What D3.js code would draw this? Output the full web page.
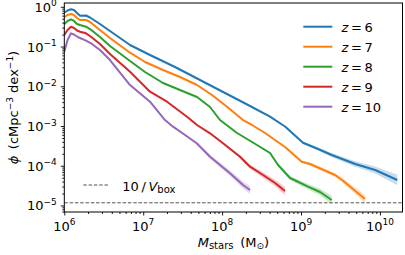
<!DOCTYPE html>
<html>
<head>
<meta charset="utf-8">
<script src="https://cdn.jsdelivr.net/npm/d3@7"></script>
<style>
  body{margin:0;background:#fff;}
  text{font-family:"DejaVu Sans",sans-serif;fill:#000;}
</style>
</head>
<body>
<div class="chart"></div>
<script>
/* values: log10 M_stars, log10 phi, band half-width (dex) */
var logM6=[6.00,6.041,6.085,6.123,6.161,6.199,6.275,6.326,6.452,6.579,6.833,7.086,7.403,7.720,8.037,8.354,8.607,8.797,9.025,9.216,9.389,9.687,9.940,10.220];
var logPhi6=[-0.148,-0.093,-0.063,-0.081,-0.156,-0.224,-0.219,-0.269,-0.433,-0.609,-0.961,-1.213,-1.515,-1.842,-2.169,-2.496,-2.765,-3.012,-3.420,-3.578,-3.729,-3.956,-4.107,-4.358];
var err6=[0.01,0.01,0.01,0.01,0.01,0.01,0.01,0.01,0.01,0.01,0.01,0.01,0.01,0.01,0.01,0.01,0.015,0.02,0.03,0.04,0.05,0.07,0.09,0.13];

var logM7=[6.00,6.041,6.085,6.123,6.161,6.199,6.275,6.326,6.452,6.579,6.833,7.023,7.251,7.466,7.682,7.872,8.062,8.265,8.379,8.544,8.797,9.009,9.114,9.431,9.520,9.811];
var logPhi7=[-0.264,-0.206,-0.181,-0.206,-0.282,-0.332,-0.332,-0.382,-0.584,-0.785,-1.155,-1.389,-1.590,-1.767,-1.968,-2.219,-2.514,-2.849,-2.974,-3.176,-3.528,-3.898,-3.956,-4.232,-4.358,-4.836];
var err7=[0.01,0.01,0.01,0.01,0.01,0.01,0.01,0.01,0.01,0.01,0.01,0.01,0.01,0.01,0.01,0.01,0.01,0.01,0.015,0.02,0.025,0.03,0.04,0.05,0.06,0.10];

var logM8=[6.00,6.041,6.085,6.123,6.161,6.199,6.275,6.326,6.452,6.579,6.833,7.023,7.251,7.466,7.682,7.847,7.973,8.189,8.442,8.607,8.709,8.861,9.089,9.241,9.389];
var logPhi8=[-0.433,-0.357,-0.315,-0.357,-0.433,-0.458,-0.501,-0.559,-0.760,-0.986,-1.364,-1.641,-1.917,-2.094,-2.270,-2.521,-2.849,-3.176,-3.478,-3.679,-3.981,-4.308,-4.527,-4.660,-4.862];
var err8=[0.01,0.01,0.01,0.01,0.01,0.01,0.01,0.01,0.01,0.01,0.01,0.01,0.01,0.01,0.01,0.01,0.015,0.015,0.02,0.03,0.04,0.05,0.07,0.08,0.11];

var logM9=[6.00,6.041,6.085,6.123,6.161,6.199,6.275,6.326,6.452,6.579,6.833,7.086,7.302,7.555,7.682,7.847,8.011,8.227,8.354,8.519,8.671,8.797];
var logPhi9=[-0.710,-0.584,-0.501,-0.533,-0.596,-0.627,-0.667,-0.735,-0.936,-1.188,-1.633,-2.136,-2.388,-2.765,-2.974,-3.183,-3.435,-3.772,-4.024,-4.232,-4.434,-4.635];
var err9=[0.01,0.01,0.01,0.01,0.01,0.01,0.01,0.01,0.01,0.01,0.01,0.01,0.01,0.01,0.015,0.015,0.02,0.04,0.05,0.07,0.08,0.10];

var logM10=[6.00,6.041,6.085,6.123,6.177,6.275,6.351,6.452,6.579,6.833,7.086,7.276,7.378,7.530,7.678,7.847,8.100,8.265,8.354];
var logPhi10=[-1.130,-0.835,-0.667,-0.697,-0.767,-0.853,-0.936,-1.087,-1.339,-1.968,-2.388,-2.849,-3.017,-3.226,-3.435,-3.772,-4.190,-4.484,-4.610];
var err10=[0.01,0.01,0.01,0.01,0.01,0.01,0.01,0.01,0.01,0.01,0.01,0.015,0.015,0.02,0.03,0.05,0.07,0.09,0.10];

var redshifts=["6","7","8","9","10"];
var colours=["#1f77b4","#ff7f0e","#2ca02c","#d62728","#9467bd"];
var xTickExp=[6,7,8,9,10];
var yTickExp=[0,-1,-2,-3,-4,-5];
var boxLimit=1.17e-5;   // 10/V_box

/*dimensions*/
var W=405, H=255;
var margin={top:3, right:2.5, bottom:43, left:64.3};
var width=W-margin.left-margin.right;
var height=H-margin.top-margin.bottom;

var xScale=d3.scaleLog().domain([1e6, Math.pow(10,10.286)]).range([0,width]);
var yScale=d3.scaleLog().domain([Math.pow(10,-5.1636), Math.pow(10,0.0956)]).range([height,0]);

var series=[
  {z:redshifts[0], m:logM6,  p:logPhi6,  e:err6,  c:colours[0]},
  {z:redshifts[1], m:logM7,  p:logPhi7,  e:err7,  c:colours[1]},
  {z:redshifts[2], m:logM8,  p:logPhi8,  e:err8,  c:colours[2]},
  {z:redshifts[3], m:logM9,  p:logPhi9,  e:err9,  c:colours[3]},
  {z:redshifts[4], m:logM10, p:logPhi10, e:err10, c:colours[4]}
];
series.forEach(function(s){
  s.pts=s.m.map(function(m,i){return {m:Math.pow(10,m), p:Math.pow(10,s.p[i]), lo:Math.pow(10,s.p[i]-s.e[i]), hi:Math.pow(10,s.p[i]+s.e[i])};});
});

var svg=d3.select(".chart").append("svg")
  .attr("width",W).attr("height",H);

svg.append("defs").append("clipPath").attr("id","plotClip")
  .append("rect").attr("width",width).attr("height",height);

var g=svg.append("g").attr("transform","translate("+margin.left+","+margin.top+")");
var plot=g.append("g").attr("clip-path","url(#plotClip)");

var area=d3.area()
  .x(function(d){return xScale(d.m)})
  .y0(function(d){return yScale(d.lo)})
  .y1(function(d){return yScale(d.hi)});
var line=d3.line()
  .x(function(d){return xScale(d.m)})
  .y(function(d){return yScale(d.p)});

// reference line
plot.append("line")
  .attr("x1",0).attr("x2",width)
  .attr("y1",yScale(boxLimit)).attr("y2",yScale(boxLimit))
  .style("stroke","#555").style("stroke-width",1).style("stroke-dasharray","3.5,1.8");

series.forEach(function(s){
  plot.append("path").datum(s.pts).attr("d",area)
    .style("fill",s.c).style("fill-opacity",0.25).style("stroke","none");
});
series.forEach(function(s){
  plot.append("path").datum(s.pts).attr("d",line)
    .style("fill","none").style("stroke",s.c).style("stroke-width",2)
    .style("stroke-linejoin","round");
});

// axes
function minorVals(lo,hi){
  var v=[];
  for(var e=lo;e<=hi;e++){for(var k=2;k<10;k++){v.push(k*Math.pow(10,e));}}
  return v;
}
var xMajors=xTickExp.map(function(e){return Math.pow(10,e)});
var yMajors=yTickExp.map(function(e){return Math.pow(10,e)});

g.append("g").attr("class","x-minor").attr("transform","translate(0,"+height+")")
  .call(d3.axisBottom(xScale).tickValues(minorVals(6,10).filter(function(v){return v<=xScale.domain()[1]})).tickSize(2).tickFormat(""));
g.append("g").attr("class","x-axis").attr("transform","translate(0,"+height+")")
  .call(d3.axisBottom(xScale).tickValues(xMajors).tickSize(3.5).tickFormat(""));
g.append("g").attr("class","y-minor")
  .call(d3.axisLeft(yScale).tickValues(minorVals(-6,-1).filter(function(v){return v>=yScale.domain()[0]})).tickSize(2).tickFormat(""));
g.append("g").attr("class","y-axis")
  .call(d3.axisLeft(yScale).tickValues(yMajors).tickSize(3.5).tickFormat(""));
g.selectAll(".domain").remove();
g.selectAll(".tick line").style("stroke","#000").style("stroke-width",0.9);

// frame
g.append("rect").attr("width",width).attr("height",height)
  .style("fill","none").style("stroke","#000").style("stroke-width",1);

function powerText(t,e){
  t.append("tspan").text("10");
  t.append("tspan").attr("dy",-5.5).style("font-size","9px").text(e<0?"\u2212"+(-e):e);
}
xTickExp.forEach(function(e){
  var t=g.append("text").attr("x",xScale(Math.pow(10,e))).attr("y",height+18.5)
    .attr("text-anchor","middle").style("font-size","13px");
  powerText(t,e);
});
yTickExp.forEach(function(e){
  var t=g.append("text").attr("x",-7.5).attr("y",yScale(Math.pow(10,e))+5)
    .attr("text-anchor","end").style("font-size","13px");
  powerText(t,e);
});

// axis labels
var xl=g.append("text").attr("x",width/2).attr("y",height+34.5)
  .attr("text-anchor","middle").style("font-size","13px");
xl.append("tspan").style("font-style","italic").text("M");
xl.append("tspan").attr("dy",2.5).style("font-size","10px").text("stars");
xl.append("tspan").attr("dy",-2.5).text("\u2009 (M");
xl.append("tspan").attr("dy",2.5).style("font-size","9px").text("\u2299");
xl.append("tspan").attr("dy",-2.5).text(")");

var yl=svg.append("text").attr("transform","translate(17.5,"+(margin.top+height/2)+") rotate(-90)")
  .attr("text-anchor","middle").style("font-size","13px");
yl.append("tspan").style("font-style","italic").text("\u03d5");
yl.append("tspan").text("\u2002(cMpc");
yl.append("tspan").attr("dy",-5).style("font-size","9px").text("\u22123");
yl.append("tspan").attr("dy",5).text(" dex");
yl.append("tspan").attr("dy",-5).style("font-size","9px").text("\u22121");
yl.append("tspan").attr("dy",5).text(")");

// legend (redshifts)
var leg=svg.append("g");
series.forEach(function(s,i){
  var yy=26.7+i*20;
  leg.append("line").attr("x1",303.3).attr("x2",332.3).attr("y1",yy).attr("y2",yy)
    .style("stroke",s.c).style("stroke-width",2);
  var t=leg.append("text").attr("x",341.5).attr("y",yy+5).style("font-size","13px");
  t.append("tspan").style("font-style","italic").text("z");
  t.append("tspan").text("\u2009=\u2009"+s.z);
});

// legend (box limit)
leg.append("line").attr("x1",83.3).attr("x2",109).attr("y1",185).attr("y2",185)
  .style("stroke","#555").style("stroke-width",1).style("stroke-dasharray","3.5,1.8");
var bt=leg.append("text").attr("x",122.3).attr("y",190.5).style("font-size","13px");
bt.append("tspan").text("10\u2009/\u2009");
bt.append("tspan").style("font-style","italic").text("V");
bt.append("tspan").attr("dy",2.5).style("font-size","10px").text("box");
</script>
</body>
</html>
